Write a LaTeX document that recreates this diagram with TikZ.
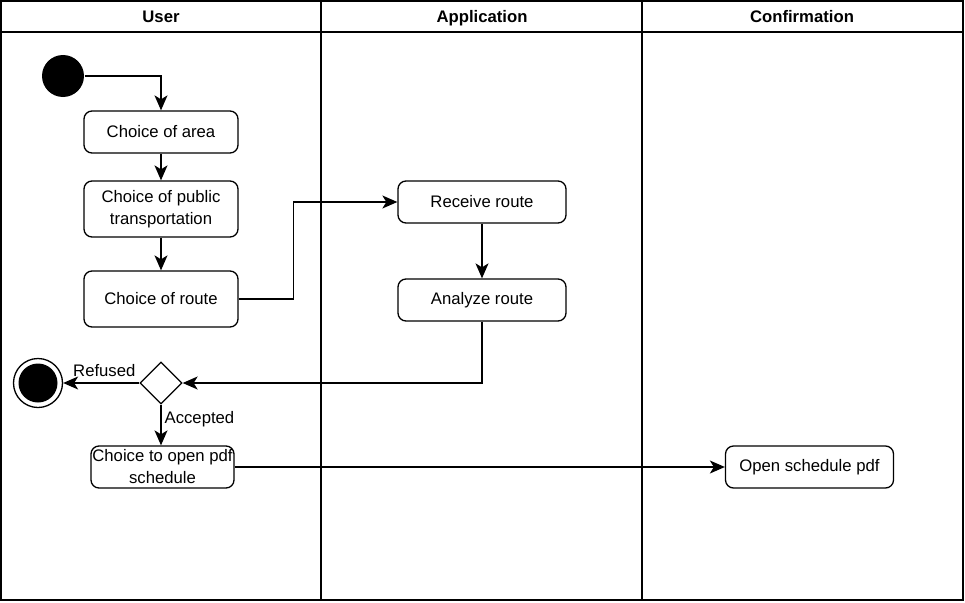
\documentclass[tikz,border=0pt]{standalone}
\usepackage{fontspec}
\setmainfont{Liberation Sans}
\usetikzlibrary{arrows.meta}
\usetikzlibrary{shapes.geometric}
\usetikzlibrary{positioning}

\begin{document}
\begin{tikzpicture}[x=1pt,y=-1pt, line width=1.3pt, % y-Achse nach unten
    every node/.style={font=\fontsize{16.7}{22}\selectfont},
    aktion/.style={draw, rounded corners=8pt, align=center, minimum height=42},
    pfeil/.style={-{Stealth[length=15pt,width=13pt,inset=4pt]}},
    kopf/.style={font=\fontsize{16.7}{22}\selectfont\bfseries, text height=12pt, text depth=3.5pt}]
    \useasboundingbox (0,0) rectangle (965,602);
    % Bahnen zeichnen
    \draw (1,1) rectangle (963,600);
    \draw (1,32) -- (963,32);
    \foreach \x in {321, 642} {
        \draw (\x,1) -- (\x,600); % Trennlinien
    }
    \foreach \x/\t/\n in {161/User/kUser, 482/Application/kApp, 802/Confirmation/kConf} {
        \node[kopf] (\n) at (\x,18) {\t}; % Kopfzeile
    }
    % Start- und Endknoten
    \node[circle, fill=black, minimum size=42, inner sep=0] (start) at (63,76) {};
    \node[circle, draw, minimum size=49, inner sep=0] (ende) at (38,383) {};
    \node[circle, fill=black, minimum size=39, inner sep=0] (endeKern) at (38,383) {};
    % Aktionen
    \node[aktion, minimum width=154] (area) at (161,132) {Choice of area};
    \node[aktion, minimum width=154, minimum height=56] (pub) at (161,209) {Choice of public\\transportation};
    \node[aktion, minimum width=154, minimum height=56] (route) at (161,299) {Choice of route};
    \node[aktion, minimum width=168] (recv) at (482,202) {Receive route};
    \node[aktion, minimum width=168] (anal) at (482,300) {Analyze route};
    \node[draw, diamond, minimum width=42, minimum height=42, inner sep=0] (dec) at (161,383) {};
    \node[aktion, minimum width=143, inner sep=0] (pdf) at (162.5,467) {Choice to open pdf\\schedule};
    \node[aktion, minimum width=168] (open) at (809.5,467) {Open schedule pdf};
    % Pfeile
    \draw[pfeil] (start) -| (area);
    \draw[pfeil] (area) -- (pub);
    \draw[pfeil] (pub) -- (route);
    \draw[pfeil] (route.east) -- ++(55,0) |- (recv.west);
    \draw[pfeil] (recv) -- (anal);
    \draw[pfeil] (anal) |- (dec);
    \draw[pfeil] (dec) -- node[above=6pt, pos=0.46, inner sep=0pt] {Refused} (ende);
    \draw[pfeil] (dec.south) -- node[right, pos=0.36, inner sep=3pt] {Accepted} (dec.south |- pdf.north);
    \draw[pfeil] (pdf) -- (open);
\end{tikzpicture}
\end{document}
